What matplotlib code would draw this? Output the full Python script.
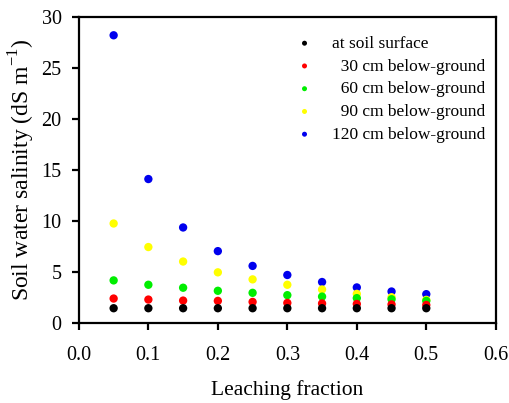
import matplotlib.pyplot as plt

plt.rcParams['font.family'] = ['Liberation Serif', 'DejaVu Serif']
plt.rcParams['mathtext.fontset'] = 'custom'
plt.rcParams['mathtext.rm'] = 'Liberation Serif'

leaching = [0.05, 0.10, 0.15, 0.20, 0.25, 0.30, 0.35, 0.40, 0.45, 0.50]

surface = [1.43, 1.43, 1.43, 1.43, 1.43, 1.43, 1.43, 1.43, 1.43, 1.43]
cm30 = [2.38, 2.28, 2.18, 2.15, 2.05, 1.95, 1.90, 1.85, 1.80, 1.75]
cm60 = [4.16, 3.73, 3.44, 3.14, 2.94, 2.71, 2.57, 2.42, 2.31, 2.15]
cm90 = [9.74, 7.43, 6.01, 4.95, 4.26, 3.73, 3.27, 2.84, 2.51, 2.25]
cm120 = [28.2, 14.1, 9.35, 7.03, 5.58, 4.69, 4.00, 3.47, 3.07, 2.81]

series = [
    (surface, 'black', 'at soil surface'),
    (cm30, '#ff0000', '  30 cm below-ground'),
    (cm60, '#00ee00', '  60 cm below-ground'),
    (cm90, '#ffff00', '  90 cm below-ground'),
    (cm120, '#0000ee', '120 cm below-ground'),
]

fig = plt.figure(figsize=(5.09, 4.03), dpi=100)
ax = fig.add_axes([0.155, 0.199, 0.819, 0.759])

# draw deeper layers first so lower ones stay on top like the original
for vals, col, lab in reversed(series):
    ax.scatter(leaching, vals, s=36, color=col, edgecolors='none', label=lab, zorder=3)

ax.set_xlim(0, 0.6)
ax.set_ylim(0, 30)
ax.set_xticks([0.0, 0.1, 0.2, 0.3, 0.4, 0.5, 0.6])
ax.set_xticklabels(['0.0', '0.1', '0.2', '0.3', '0.4', '0.5', '0.6'])
ax.set_yticks([0, 5, 10, 15, 20, 25, 30])

for sp in ax.spines.values():
    sp.set_linewidth(1.6)
ax.tick_params(direction='out', length=5, width=1.6, labelsize=14.5)
ax.tick_params(axis='x', pad=11.5)
ax.tick_params(axis='y', pad=7.5)

ax.set_xlabel('Leaching fraction', fontsize=15.5, labelpad=11)
ax.set_ylabel('Soil water salinity (dS m$^{-1}$)', fontsize=17, labelpad=3)

handles, labels = ax.get_legend_handles_labels()
leg = ax.legend(handles[::-1], labels[::-1], loc='upper right', frameon=False,
                fontsize=12.5, markerscale=0.6, handletextpad=0.57,
                labelspacing=0.38, bbox_to_anchor=(1.012, 0.99))

fig.savefig('out.png', dpi=100)
